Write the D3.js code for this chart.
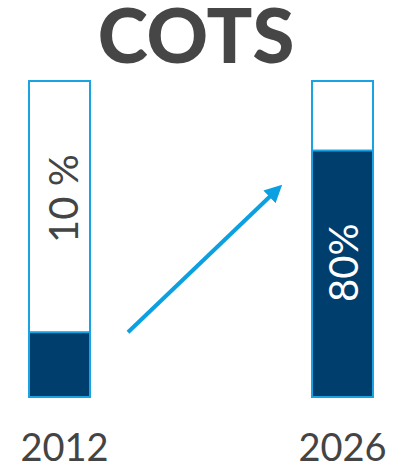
<!DOCTYPE html>
<html><head><meta charset="utf-8">
<script src="https://cdn.jsdelivr.net/npm/d3@7"></script>
<style>html,body{margin:0;padding:0;background:#fff;}</style>
</head><body>
<svg id="chart" width="402" height="467"></svg>
<script>
const title = "COTS";
const years = ["2012", "2026"];
const fillValues = [20.5, 78];          // filled share of each bar (as drawn)
const valueLabels = ["10 %", "80%"];
const arrowFrom = 20.5, arrowTo = 66;   // arrow start/end levels on the value scale

const svg = d3.select("#chart");
const x = d3.scaleBand().domain(years).range([29, 373]).paddingInner(0.7845).paddingOuter(0);
const y = d3.scaleLinear().domain([0, 100]).range([397, 81]);
const bw = x.bandwidth();

svg.append("text").attr("x", 196).attr("y", 63)
  .attr("text-anchor", "middle")
  .attr("font-family", "Lato, 'Open Sans', sans-serif").attr("font-weight", 900)
  .attr("font-size", 76).attr("fill", "#464646").attr("letter-spacing", 0)
  .text(title);

const g = svg.append("g");
g.selectAll("rect.box").data(years).join("rect").attr("class", "box")
  .attr("x", d => x(d)).attr("y", y(100)).attr("width", bw).attr("height", y(0) - y(100))
  .attr("fill", "#fff");
g.selectAll("rect.fill").data(years).join("rect").attr("class", "fill")
  .attr("x", d => x(d)).attr("y", (d, i) => y(fillValues[i]))
  .attr("width", bw).attr("height", (d, i) => y(0) - y(fillValues[i]))
  .attr("fill", "#003f6d").attr("stroke", "#1aa3e0").attr("stroke-width", 2);
g.selectAll("rect.outline").data(years).join("rect").attr("class", "outline")
  .attr("x", d => x(d)).attr("y", y(100)).attr("width", bw).attr("height", y(0) - y(100))
  .attr("fill", "none").attr("stroke", "#1aa3e0").attr("stroke-width", 2);

const labelPos = [
  {cx: x(years[0]) + bw / 2 + 4, cy: (y(100) + y(fillValues[0])) / 2 - 8, color: "#444"},
  {cx: x(years[1]) + bw / 2 + 1, cy: (y(0) + y(fillValues[1])) / 2 - 11, color: "#fff"}
];
g.selectAll("text.val").data(valueLabels).join("text").attr("class", "val")
  .attr("transform", (d, i) => `translate(${labelPos[i].cx},${labelPos[i].cy}) rotate(-90)`)
  .attr("text-anchor", "middle").attr("dy", "0.36em")
  .attr("font-family", "Lato, 'Open Sans', sans-serif").attr("font-weight", 400)
  .attr("font-size", 40).attr("fill", (d, i) => labelPos[i].color)
  .text(d => d);

g.selectAll("text.year").data(years).join("text").attr("class", "year")
  .attr("x", (d, i) => x(d) + bw / 2 + (i === 0 ? 5 : 0)).attr("y", 461)
  .attr("text-anchor", "middle")
  .attr("font-family", "Lato, 'Open Sans', sans-serif").attr("font-weight", 400)
  .attr("font-size", 38).attr("fill", "#444")
  .text(d => d);

const defs = svg.append("defs");
defs.append("marker").attr("id", "ah").attr("viewBox", "0 0 10 10")
  .attr("refX", 2).attr("refY", 5).attr("markerWidth", 4.4).attr("markerHeight", 4.4)
  .attr("orient", "auto").append("path").attr("d", "M0,0L10,5L0,10z").attr("fill", "#0aa0e2");
const x0 = x(years[0]) + bw + 38, x1 = x(years[1]) - 40;
svg.append("path")
  .attr("d", d3.line()([[x0, y(arrowFrom)], [x1, y(arrowTo) + 6]]))
  .attr("stroke", "#0aa0e2").attr("stroke-width", 4).attr("fill", "none")
  .attr("marker-end", "url(#ah)");
</script>
</body></html>
